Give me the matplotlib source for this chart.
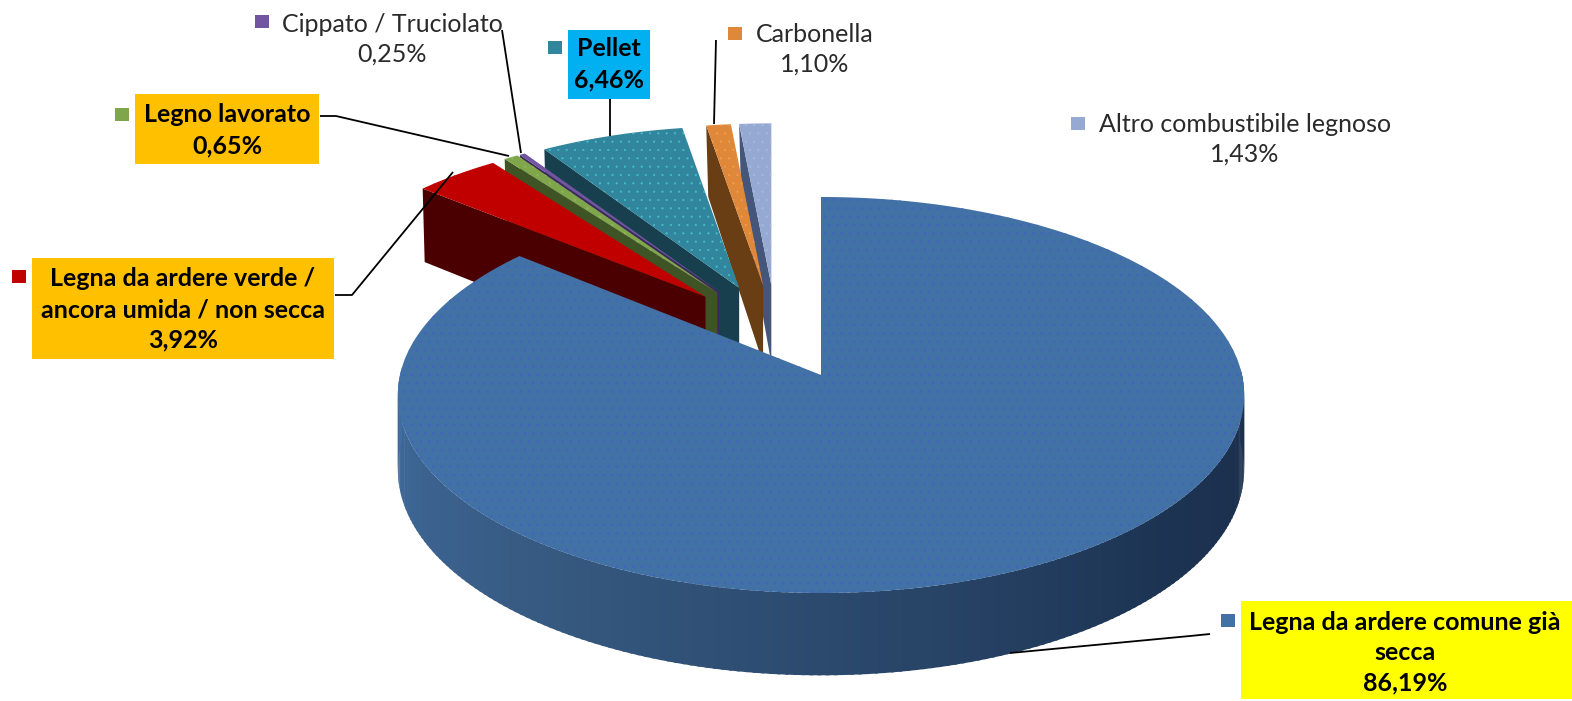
import matplotlib
matplotlib.use('Agg')
import matplotlib.pyplot as plt
from matplotlib.patches import Polygon, Rectangle
import numpy as np

# Datos del grafico
categorie = ['Legna da ardere comune già secca', 'Legna da ardere verde / ancora umida / non secca',
             'Legno lavorato', 'Cippato / Truciolato', 'Pellet', 'Carbonella', 'Altro combustibile legnoso']
valori = [86.19, 3.92, 0.65, 0.25, 6.46, 1.10, 1.43]
etichette = [['Legna da ardere comune già', 'secca', '86,19%'],
             ['Legna da ardere verde /', 'ancora umida / non secca', '3,92%'],
             ['Legno lavorato', '0,65%'],
             ['Cippato / Truciolato', '0,25%'],
             ['Pellet', '6,46%'],
             ['Carbonella', '1,10%'],
             ['Altro combustibile legnoso', '1,43%']]

colori = ['#4271A6', '#C00000', '#7FA64B', '#7155A0', '#31859C', '#E0883A', '#95A9D3']
colori_scuri = ['#1c3352', '#4a0000', '#3f5424', '#3d2a5c', '#173f4e', '#693e14', '#46567a']
colori_punti = ['#4560c0', '#C00000', '#8fb85c', '#7155A0', '#45c0cc', '#f0a050', '#a8bae0']

# pixel della figura: centro, raggi, prospettiva
cx, cy = 821, 375
rx, ry = 421, 196
rx2, ry2 = 395, 178
persp = 0.101
alto = 74


def proietta(ox, oy, a, b, theta):
    # theta in gradi, in senso orario dall'alto
    t = np.radians(theta)
    s = 1 / (1 + persp * np.cos(t))
    return ox + a * np.sin(t) * s, oy - b * np.cos(t) * s


def spessore(theta):
    return alto / (1 + persp * np.cos(np.radians(theta)))


plt.rcParams['font.family'] = ['Lato', 'DejaVu Sans']
plt.rcParams['hatch.linewidth'] = 0.3

fig = plt.figure(figsize=(15.72, 7.01), dpi=100)
ax = fig.add_axes([0, 0, 1, 1])
ax.set_xlim(0, 1572)
ax.set_ylim(701, 0)
ax.axis('off')

limiti = np.cumsum([0] + valori) * 3.6

# spicchi staccati: quelli a sinistra coprono quelli a destra
for i in range(1, len(valori)):
    t0, t1 = limiti[i], limiti[i + 1]
    mid = np.radians((t0 + t1) / 2)
    ox = cx - 45 + 104 * np.sin(mid)
    oy = cy - 46 - 44 * np.cos(mid)
    # faccia laterale sinistra
    xa, ya = proietta(ox, oy, rx2, ry2, t0)
    lato = [(xa, ya), (xa + 2, ya + spessore(t0) + 4), (ox, oy + alto + 4), (ox, oy)]
    ax.add_patch(Polygon(lato, facecolor=colori_scuri[i], edgecolor='none', zorder=12 - i))
    # faccia superiore
    tt = np.linspace(t0, t1, 30)
    xs, ys = proietta(ox, oy, rx2, ry2, tt)
    punti = [(ox, oy)] + list(zip(xs, ys))
    ax.add_patch(Polygon(punti, facecolor=colori[i], edgecolor=colori_punti[i], hatch='..',
                         linewidth=0, zorder=12 - i))

# parete del settore grande, a strisce per la sfumatura
ang = np.linspace(88, 272, 185)
pos = [88, 130, 180, 215, 272]
rr = np.interp(ang, pos, [0x1a, 0x1c, 0x2c, 0x36, 0x41])
gg = np.interp(ang, pos, [0x2e, 0x33, 0x4a, 0x59, 0x6d])
bb = np.interp(ang, pos, [0x4a, 0x52, 0x6e, 0x80, 0xa0])
for k in range(len(ang) - 1):
    xa, ya = proietta(cx, cy, rx, ry, ang[k])
    xb, yb = proietta(cx, cy, rx, ry, ang[k + 1] + 0.4)
    striscia = [(xa, ya), (xb, yb), (xb, yb + spessore(ang[k + 1])), (xa, ya + spessore(ang[k]))]
    ax.add_patch(Polygon(striscia, facecolor=(rr[k] / 255, gg[k] / 255, bb[k] / 255),
                         edgecolor='none', zorder=20))

tt = np.linspace(limiti[0], limiti[1], 400)
xs, ys = proietta(cx, cy, rx, ry, tt)
ax.add_patch(Polygon([(cx, cy)] + list(zip(xs, ys)), facecolor=colori[0], edgecolor=colori_punti[0],
                     hatch='..', linewidth=0, zorder=21))

# linee guida
guide = [([1010, 1190, 1210], [653, 636, 634]),
         ([335, 352, 453], [295, 295, 172]),
         ([320, 336, 509], [116, 116, 156]),
         ([502, 521], [30, 153]),
         ([610, 610], [99, 136]),
         ([716, 714], [40, 124])]
for xl, yl in guide:
    ax.plot(xl, yl, color='black', lw=1.3, zorder=25, solid_capstyle='butt')

# riquadri, indicatori e testi
riquadri = [(1241, 601, 331, 98, '#FFFF00'), (32, 258, 302, 101, '#FFC000'), (135, 94, 184, 70, '#FFC000'),
            None, (568, 30, 82, 69, '#00B0F0'), None, None]
indicatori = [(1228, 621), (19, 277), (122, 115), (262, 22), (555, 48), (735, 34), (1078, 124)]
centri = [1405, 183, 227, 392, 609, 815, 1245]
primi_y = [622, 279, 115, 24, 49, 34, 124]
grassetto = [True, True, True, False, True, False, False]

for i in range(len(categorie)):
    if riquadri[i] is not None:
        x0, y0, w, h, col = riquadri[i]
        ax.add_patch(Rectangle((x0, y0), w, h, facecolor=col, edgecolor='none', zorder=26))
    mx, my = indicatori[i]
    ax.add_patch(Rectangle((mx - 7, my - 7), 14, 13, facecolor=colori[i], edgecolor='none', zorder=27))
    for j, riga in enumerate(etichette[i]):
        ax.text(centri[i], primi_y[i] + j * 30.5, riga, ha='center', va='center', fontsize=18,
                fontweight='bold' if grassetto[i] else 'normal',
                color='#000000' if grassetto[i] else '#2a2a2a', zorder=28)

fig.savefig('out.png', dpi=100)
